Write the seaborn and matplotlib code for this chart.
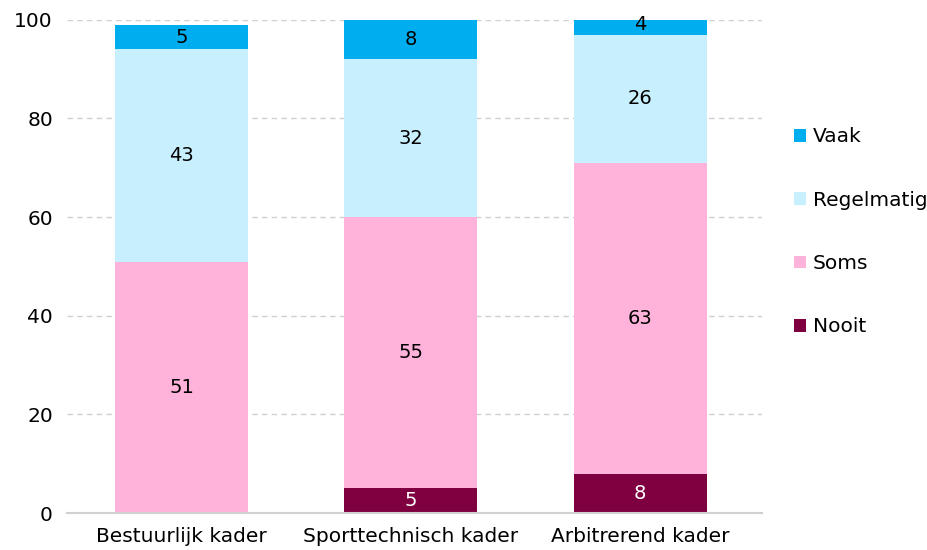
import numpy as np
import pandas as pd
import matplotlib
matplotlib.use("Agg")
import matplotlib.pyplot as plt
import seaborn as sns
from matplotlib.patches import Patch

categories = ["Bestuurlijk kader", "Sporttechnisch kader", "Arbitrerend kader"]
nooit = [0, 5, 8]
soms = [51, 55, 63]
regelmatig = [43, 32, 26]
vaak = [5, 8, 4]

series = ["Nooit", "Soms", "Regelmatig", "Vaak"]
values = [nooit, soms, regelmatig, vaak]
colors = {"Nooit": "#7f0041", "Soms": "#ffb3db", "Regelmatig": "#c8effd", "Vaak": "#00aeef"}
text_colors = {"Nooit": "white", "Soms": "black", "Regelmatig": "black", "Vaak": "black"}

sns.set_theme(style="white")
plt.rcParams["font.family"] = ["DejaVu Sans"]

fig = plt.figure(figsize=(9.28, 5.5), dpi=100)
ax = fig.add_axes([0.072, 0.067, 0.749, 0.897])

# cumulative tops, drawn from the tallest stack down so each segment shows
cum = np.cumsum(np.array(values), axis=0)
for i in range(len(series) - 1, -1, -1):
    df = pd.DataFrame({"cat": categories, "val": cum[i]})
    sns.barplot(data=df, x="cat", y="val", color=colors[series[i]], width=0.58,
                saturation=1, ax=ax, zorder=2, order=categories,
                edgecolor="none", linewidth=0)

# segment value labels
for i, name in enumerate(series):
    for j, v in enumerate(values[i]):
        if v <= 0:
            continue
        bottom = cum[i][j] - v
        ax.text(j, bottom + v / 2, f"{v}", ha="center", va="center",
                fontsize=14, color=text_colors[name], zorder=3)

ax.set_ylim(0, 100)
ax.set_xlim(-0.5, 2.53)
ax.set_yticks([0, 20, 40, 60, 80, 100])
ax.yaxis.grid(True, linestyle=(0, (4, 3)), color="#d0d0d0", linewidth=1, zorder=0)
ax.set_axisbelow(True)
for s in ["left", "right", "top"]:
    ax.spines[s].set_visible(False)
ax.spines["bottom"].set_color("#d0d0d0")
ax.spines["bottom"].set_linewidth(1.5)
ax.spines["bottom"].set_zorder(4)
ax.tick_params(axis="both", length=0, labelsize=14.5, colors="black", pad=10)
ax.set_xlabel("")
ax.set_ylabel("")

handles = [Patch(facecolor=colors[n], edgecolor="none", label=n) for n in reversed(series)]
leg = ax.legend(handles=handles, loc="center left", bbox_to_anchor=(1.02, 0.57), frameon=False,
                fontsize=14.5, handlelength=0.6, handleheight=0.6, handletextpad=0.35,
                labelspacing=2.2)
for t in leg.get_texts():
    t.set_color("black")

fig.savefig("out.png", dpi=100)
